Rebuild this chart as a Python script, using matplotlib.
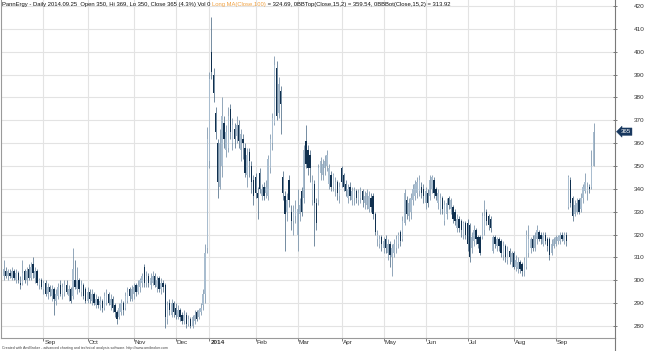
import matplotlib
matplotlib.use('Agg')
import matplotlib.pyplot as plt
import numpy as np
from matplotlib.transforms import blended_transform_factory, offset_copy
from matplotlib.lines import Line2D

plt.rcParams['font.family'] = ['Liberation Sans', 'DejaVu Sans']

# ---------------- data ----------------
month_labels = ['Sep', 'Oct', 'Nov', 'Dec', '2014', 'Feb', 'Mar', 'Apr', 'May', 'Jun', 'Jul', 'Aug', 'Sep']
# trading bars in each month: Aug 2013 ... Sep 2014
month_bar_counts = [19, 21, 22, 20, 16, 22, 20, 21, 20, 20, 20, 22, 20, 19]

opens = [
    302,304,302,303,301,304,300,303,299,299,304,300,305,301,307,301,304,298,300,
    296,299,294,297,293,296,291,293,298,294,295,298,293,296,293,300,296,300,295,298,296,
    291,295,291,294,289,292,289,291,288,290,294,289,292,289,286,284,286,290,288,291,296,292,
    294,298,295,297,299,306,299,302,298,299,302,297,301,296,299,298,283,290,285,290,
    288,284,287,285,282,285,281,283,280,282,286,284,286,289,294,314,
    352,400,390,373,360,341,350,369,357,358,375,360,366,363,368,357,362,358,346,356,350,344,
    345,338,347,337,341,338,337,349,360,369,393,373,383,345,337,330,344,330,326,328,
    320,329,339,336,361,357,355,335,342,334,335,347,346,349,350,342,346,341,340,343,337,
    349,346,342,336,341,335,336,339,335,336,339,334,333,331,336,337,329,318,316,319,
    314,318,312,316,310,312,314,316,321,318,325,335,328,330,335,337,338,339,341,340,
    334,338,337,340,344,340,334,331,336,326,329,336,331,332,330,323,327,326,320,325,
    325,324,314,317,322,319,319,319,322,330,328,327,313,319,315,318,317,311,315,309,313,308,
    312,306,305,308,307,304,306,312,314,318,314,318,321,320,316,320,318,318,312,315,
    316,317,317,320,317,320,332,344,336,329,330,335,331,336,339,339,341,341,350,
]
highs = [
    309,306,305,305,306,305,305,304,302,309,305,306,307,308,310,306,305,301,301,
    300,300,299,298,298,297,296,299,300,299,300,300,298,297,314,309,306,301,300,299,297,
    297,296,296,295,294,293,293,292,295,296,295,294,293,290,287,290,292,291,295,297,297,298,
    299,299,300,301,303,307,304,303,303,304,303,302,302,301,300,299,291,292,292,291,
    290,289,288,286,287,286,285,284,285,287,287,288,290,296,316,367,
    391,415,393,376,362,366,380,372,368,376,377,371,369,372,370,366,364,360,358,358,352,346,
    347,341,349,342,343,344,355,364,373,398,396,389,385,348,339,338,346,333,333,335,
    340,336,341,359,368,359,357,346,344,336,351,354,353,355,357,351,348,347,345,344,343,
    350,347,344,342,343,341,341,340,340,341,340,339,340,339,338,338,330,322,320,320,
    319,320,318,317,316,318,320,321,322,328,340,337,336,338,342,344,345,346,343,342,
    341,340,346,346,345,341,340,338,337,335,336,337,336,333,331,329,328,327,326,326,
    327,325,321,324,323,320,320,330,335,331,329,328,320,320,319,319,318,317,316,315,314,313,
    313,311,310,309,308,310,322,324,319,320,321,324,322,321,321,321,319,319,318,319,
    320,320,321,321,321,321,346,345,337,335,336,336,338,342,347,343,342,357,369,
]
lows = [
    300,301,300,301,300,300,299,299,296,298,299,298,300,300,301,299,298,296,296,
    294,293,292,293,291,285,289,292,293,292,293,294,291,290,292,296,294,295,293,292,290,
    290,290,289,289,288,288,287,286,287,289,289,287,286,284,281,283,285,285,287,290,291,291,
    292,293,294,295,297,297,297,297,296,298,297,295,295,294,295,279,281,285,284,284,
    283,283,282,281,281,279,280,279,279,281,282,283,285,287,290,312,
    349,388,378,362,336,340,345,358,354,356,362,357,358,360,358,352,353,345,341,345,338,333,
    336,327,338,335,335,336,335,347,357,368,370,371,364,335,313,326,332,322,320,325,
    313,326,328,334,349,346,343,333,315,322,333,344,344,346,348,340,339,339,337,335,334,
    341,339,337,334,335,333,333,334,333,334,332,331,331,330,330,327,320,315,314,313,
    312,312,309,306,302,310,312,314,315,317,324,327,326,327,333,335,336,337,336,334,
    331,332,335,338,336,335,331,329,329,324,327,331,329,325,324,321,321,319,318,318,
    313,308,312,315,316,314,311,318,320,324,322,321,312,314,313,313,310,309,308,307,307,306,
    305,304,303,303,302,302,305,310,312,313,313,316,317,316,315,316,313,309,311,314,
    315,316,316,317,316,315,331,332,326,328,329,329,330,334,338,335,338,340,350,
]
closes = [
    305,302,304,302,304,301,303,300,298,303,300,304,301,306,303,304,299,300,297,
    299,294,297,295,296,292,294,297,294,297,298,295,296,291,305,297,300,296,298,293,291,
    295,292,294,290,292,289,291,288,293,294,290,292,288,286,283,288,290,287,293,295,293,296,
    297,295,298,300,302,299,302,299,301,302,298,300,296,299,297,284,289,287,290,286,
    285,287,284,282,285,281,283,280,284,285,283,287,288,294,312,362,
    388,391,382,365,343,360,372,362,365,372,365,368,362,368,361,364,360,347,355,352,343,337,
    338,336,340,340,337,341,353,362,371,394,372,386,377,338,329,335,335,326,330,331,
    331,333,330,357,351,349,349,343,334,325,349,352,351,352,355,349,341,346,343,338,341,
    343,341,339,340,337,339,339,336,338,339,335,337,338,337,332,329,321,320,318,316,
    317,314,316,311,314,316,318,320,317,326,338,329,334,336,340,342,343,344,338,337,
    339,334,344,345,338,337,338,336,331,333,334,333,335,327,326,327,323,322,325,320,
    316,310,319,322,318,316,312,328,328,326,324,323,319,316,318,315,312,315,310,313,310,312,
    306,309,308,305,304,309,320,318,318,314,320,322,318,318,320,317,315,311,316,318,
    319,319,320,318,320,317,345,334,328,333,334,330,336,341,343,341,340,350,365,
]
y_ticks = list(range(280, 421, 10))
last_close = 365

title_main = "PannErgy - Daily 2014.09.25  Open 350, Hi 369, Lo 350, Close 365 (4.3%) Vol 0 "
title_ma = "Long MA(Close,100)"
title_rest = " = 324.69, 0BBTop(Close,15,2) = 359.54, 0BBBot(Close,15,2) = 313.92"
footer = "Created with AmiBroker - advanced charting and technical analysis software. http://www.amibroker.com"

# ---------------- figure ----------------
W, H = 645, 351
fig = plt.figure(figsize=(W / 100, H / 100), dpi=100)
ax_l, ax_r, ax_b = 1 / W, 615 / W, 1 - 338 / H
ax = fig.add_axes([ax_l, ax_b, ax_r - ax_l, 1 - ax_b])

o = np.array(opens, float); h = np.array(highs, float)
l = np.array(lows, float); c = np.array(closes, float)
x = np.arange(len(c))
up = c >= o

UP_FILL = '#a9bdcf'
UP_WICK = '#7590a8'
DN_FILL = '#10304f'
DN_WICK = '#4f6d88'

# grid
month_starts = np.cumsum(month_bar_counts)[:-1]
for ms in month_starts:
    ax.axvline(ms, color='#e3e3e3', lw=0.8, zorder=0)
for yt in y_ticks:
    ax.axhline(yt, color='#e3e3e3', lw=0.8, zorder=0)

wick_cols = np.where(up, UP_WICK, DN_WICK)
ax.vlines(x, l, h, colors=wick_cols, lw=0.55, zorder=2)
body_bot = np.minimum(o, c)
body_h = np.maximum(np.abs(c - o), 0.35)
ax.bar(x, body_h, bottom=body_bot, width=0.66,
       color=np.where(up, UP_FILL, DN_FILL), linewidth=0, zorder=3)

ax.set_xlim(-1.2, 291.2)
ax.set_ylim(274.75, 422.6)

ax.spines['top'].set_visible(False)
for s in ['left', 'bottom']:
    ax.spines[s].set_color('#9a9a9a')
    ax.spines[s].set_linewidth(0.8)
ax.spines['right'].set_color('#7a7a7a')
ax.spines['right'].set_linewidth(0.8)

ax.yaxis.tick_right()
ax.set_yticks(y_ticks)
ax.set_yticklabels([str(v) for v in y_ticks], fontsize=4.6, color='#333333')
ax.tick_params(axis='y', direction='inout', length=3, width=0.6, color='#666666', pad=12)

ax.set_xticks(month_starts)
ax.set_xticklabels([])
ax.tick_params(axis='x', direction='out', length=2.5, width=0.6, color='#666666')

trans = blended_transform_factory(ax.transData, fig.transFigure)
for ms, lab in zip(month_starts, month_labels):
    ax.text(ms + 0.5, 1 - 342.5 / H, lab, transform=trans, ha='left', va='center',
            fontsize=4.6, color='#333333',
            fontweight='bold' if lab == '2014' else 'normal', clip_on=False)

# continue right axis line to the bottom
fig.add_artist(Line2D([615 / W, 615 / W], [0, ax_b], transform=fig.transFigure,
                      color='#7a7a7a', lw=0.8))

# last price label
lbl_tr = offset_copy(blended_transform_factory(ax.transAxes, ax.transData), fig=fig, x=5.5, y=0, units='dots')
ax.text(1.0, last_close, str(last_close), transform=lbl_tr,
        ha='left', va='center', fontsize=4.4, color='white', clip_on=False, zorder=10,
        bbox=dict(boxstyle='larrow,pad=0.2', fc='#17375e', ec='#17375e', lw=0.3))

# title line (multi-colour)
fig.canvas.draw()
r = fig.canvas.get_renderer()
tx = 2 / W
ty = 1 - 4.5 / H
fs = 4.25
for txt, col in [(title_main, '#111111'), (title_ma, '#f0a040'), (title_rest, '#111111')]:
    t = fig.text(tx, ty, txt, fontsize=fs, color=col, ha='left', va='center')
    bb = t.get_window_extent(renderer=r)
    tx = bb.x1 / W

fig.text(2 / W, 1 - 348 / H, footer, fontsize=2.6, color='#444444', ha='left', va='center')

fig.savefig('out.png', dpi=100)
